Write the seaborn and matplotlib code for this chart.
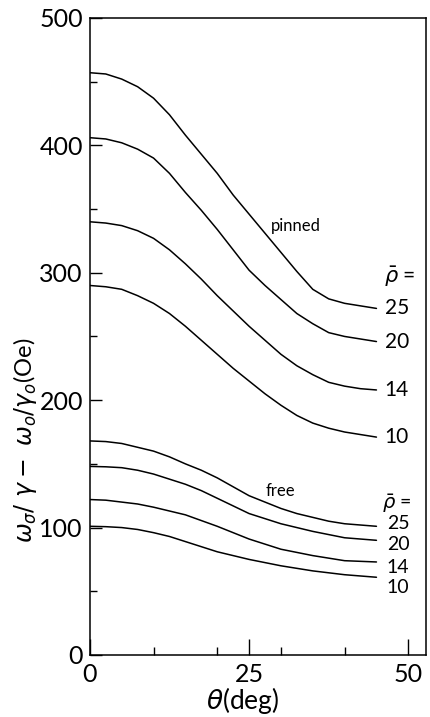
import numpy as np
import pandas as pd
import matplotlib
matplotlib.use("Agg")
import matplotlib.pyplot as plt
import seaborn as sns

# angle grid (deg)
theta = [0, 2.5, 5, 7.5, 10, 12.5, 15, 17.5, 20, 22.5, 25,
         27.5, 30, 32.5, 35, 37.5, 40, 42.5, 45]

rho_values = [25, 20, 14, 10]

# pinned curves (Oe)
pinned_25 = [457, 456, 452, 446, 437, 424, 408, 393, 378, 361, 346,
             331, 316, 301, 287, 279.5, 276, 274, 272]
pinned_20 = [406, 405, 402, 397, 390, 378, 363, 349, 334, 318, 302,
             290, 279, 268, 260, 253, 250, 248, 246]
pinned_14 = [340, 339, 337, 333, 327, 318, 307, 295, 282, 270, 258,
             247, 236, 227, 220, 214, 211, 209, 208]
pinned_10 = [290, 289, 287, 282, 276, 268, 258, 247, 236, 225, 215,
             205, 196, 188, 182, 178, 175, 173, 171]

# free curves (Oe)
free_25 = [168, 167.5, 166, 163, 160, 155.5, 150, 145, 139, 132, 125,
           120, 115, 111, 108, 105, 103, 102, 101]
free_20 = [148, 147.7, 147, 145, 142, 138, 134, 129, 123, 117, 111,
           107, 103, 100, 97, 94.5, 92, 91, 90]
free_14 = [122, 121.5, 120, 118.5, 116, 113, 110, 105.5, 101, 96, 91,
           87, 83, 80.5, 78, 76, 74, 73.5, 73]
free_10 = [101, 100.7, 100, 98.5, 96, 93, 89, 85, 81, 78, 75,
           72.5, 70, 68, 66, 64.5, 63, 62, 61]

pinned = [pinned_25, pinned_20, pinned_14, pinned_10]
free = [free_25, free_20, free_14, free_10]

rows = []
for bc, group in (("pinned", pinned), ("free", free)):
    for rho, vals in zip(rho_values, group):
        for t, v in zip(theta, vals):
            rows.append((bc, rho, t, v))
df = pd.DataFrame(rows, columns=["bc", "rho", "theta", "value"])
df["curve"] = df["bc"] + df["rho"].astype(str)

sns.set_style("ticks")
plt.rcParams["font.family"] = ["Lato", "DejaVu Sans"]
plt.rcParams["font.weight"] = "normal"
plt.rcParams["text.color"] = "black"
plt.rcParams["xtick.labelcolor"] = "black"
plt.rcParams["ytick.labelcolor"] = "black"

fig = plt.figure(figsize=(4.3, 7.17), dpi=100)
ax = fig.add_axes([0.209, 0.0865, 0.782, 0.8885])

sns.lineplot(data=df, x="theta", y="value", units="curve", estimator=None,
             color="black", linewidth=1.1, ax=ax, legend=False)

ax.set_xlim(0, 52.8)
ax.set_ylim(0, 500)
ax.set_xticks([0, 25, 50])
ax.set_xticks([10, 20, 30, 40], minor=True)
ax.set_yticks([0, 100, 200, 300, 400, 500])
ax.set_yticks([50, 150, 250, 350, 450], minor=True)
ax.tick_params(axis="both", which="both", direction="in", color="black", width=1.0)
ax.tick_params(axis="x", which="major", length=11.5, pad=6, labelsize=18)
ax.tick_params(axis="x", which="minor", length=6)
ax.tick_params(axis="y", which="major", length=8.5, pad=5, labelsize=18)
ax.tick_params(axis="y", which="minor", length=5)
for s in ax.spines.values():
    s.set_visible(True)
    s.set_linewidth(1.1)
    s.set_color("black")
ax.set_xlabel("")
ax.set_ylabel("")

# curve annotations
ax.text(32.4, 337, "pinned", fontsize=12, ha="center", va="center")
ax.text(46.2, 297, r"$\bar{\rho}$ =", fontsize=15, ha="left", va="center")
for rho, vals in zip(rho_values, pinned):
    ax.text(46.3, vals[-1], str(rho), fontsize=15, ha="left", va="center")

ax.text(29.9, 129, "free", fontsize=12, ha="center", va="center")
ax.text(45.8, 119, r"$\bar{\rho}$ =", fontsize=14, ha="left", va="center")
free_label_y = [103, 87, 69, 53]
for rho, yl in zip(rho_values, free_label_y):
    ax.text(46.6, yl, str(rho), fontsize=14, ha="left", va="center")

fig.text(25 / 430, 1 - 440 / 717,
         r"$\omega_\sigma/\ \gamma - \ \omega_o/\gamma_o$(Oe)",
         rotation=90, ha="center", va="center", fontsize=17)
fig.text(243 / 430, 1 - 700 / 717, r"$\theta$(deg)", ha="center", va="center",
         fontsize=19)

fig.savefig("out.png", dpi=100)
